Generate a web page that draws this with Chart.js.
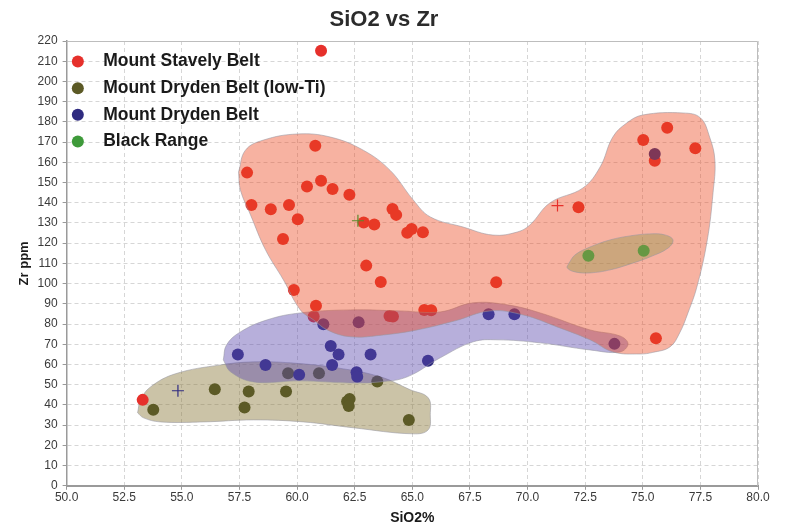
<!DOCTYPE html>
<html>
<head>
<meta charset="utf-8">
<title>SiO2 vs Zr</title>
<script src="https://cdn.jsdelivr.net/npm/chart.js@4/dist/chart.umd.min.js"></script>
<style>
  html, body { margin: 0; padding: 0; background: #ffffff; }
  canvas { display: block; }
</style>
</head>
<body>
<canvas id="chart" width="787" height="527"></canvas>
<script>
// Series names (legend order)
const seriesNames = ['Mount Stavely Belt', 'Mount Dryden Belt (low-Ti)', 'Mount Dryden Belt', 'Black Range'];

// Samples: [SiO2 %, Zr ppm]
const stavelyBelt = [
  [53.3, 42.5], [61.04, 215.2], [60.79, 168.2], [57.83, 154.9], [61.04, 150.9],
  [60.43, 148.0], [61.54, 146.8], [62.27, 144.0], [58.02, 138.9], [58.86, 136.8],
  [59.65, 138.9], [60.03, 131.8], [59.39, 122.1], [59.86, 96.9], [62.89, 130.2],
  [63.35, 129.2], [64.14, 136.9], [64.30, 134.0], [64.78, 125.2], [64.97, 127.0],
  [65.46, 125.4], [63.00, 108.9], [63.63, 100.8], [60.82, 89.0], [60.72, 83.7],
  [64.01, 84.0], [64.16, 83.7], [65.52, 87.0], [65.82, 86.8], [68.64, 100.7],
  [72.21, 137.8], [75.02, 171.0], [76.06, 177.1], [77.28, 166.9], [75.52, 160.8],
  [75.57, 73.0]
];
const drydenLowTi = [
  [53.76, 37.6], [56.43, 47.8], [57.90, 46.6], [57.72, 38.7], [59.52, 46.6],
  [59.61, 55.7], [60.95, 55.7], [62.17, 41.7], [62.28, 42.9], [62.24, 39.5],
  [63.48, 51.6], [64.85, 32.6]
];
const drydenBelt = [
  [57.43, 64.9], [58.63, 59.8], [60.09, 54.9], [61.46, 69.2], [61.80, 64.9],
  [61.52, 59.8], [62.58, 56.2], [62.61, 53.9], [63.19, 64.9], [65.68, 61.9],
  [61.14, 79.9], [62.67, 80.9], [68.31, 84.9], [69.43, 84.9], [73.77, 70.2],
  [75.52, 164.1]
];
const blackRange = [[72.64, 113.8], [75.04, 116.2]];

// Group mean markers (+)
const groupMeans = [[71.30, 138.6], [54.83, 47.0], [62.64, 131.1]];

// Field outlines drawn around each group: [SiO2 %, Zr ppm]
const stavelyField = [
  [57.46, 155.2], [57.76, 166.0], [58.54, 171.0], [60.01, 174.0], [61.44, 172.5],
  [62.87, 166.0], [64.04, 156.0], [65.04, 141.4], [65.78, 133.0], [67.20, 128.0],
  [68.50, 124.0], [69.55, 125.5], [70.10, 129.0], [70.98, 140.0], [72.40, 147.3],
  [73.15, 157.7], [73.70, 172.5], [74.30, 179.4], [75.00, 183.4], [76.75, 184.4],
  [77.50, 182.0], [77.90, 172.5], [78.13, 161.0], [78.05, 145.0], [77.80, 121.6],
  [77.35, 98.4], [76.96, 85.5], [76.60, 75.6], [76.18, 68.7], [75.44, 66.0],
  [74.88, 65.2], [73.71, 66.2], [72.71, 72.2], [71.28, 78.6], [69.81, 84.5],
  [68.38, 86.5], [66.86, 81.6], [65.21, 77.1], [63.74, 74.6], [62.31, 73.7],
  [61.31, 77.1], [60.71, 82.1], [60.14, 87.0], [59.41, 101.8], [58.63, 116.7],
  [57.98, 134.0], [57.54, 146.3], [57.46, 155.2]
];
const drydenField = [
  [56.80, 62.3], [56.94, 69.7], [57.54, 76.1], [58.71, 82.1], [60.14, 85.5],
  [62.31, 87.0], [64.48, 86.5], [66.21, 86.0], [67.64, 90.5], [69.12, 89.5],
  [70.55, 85.5], [72.71, 77.1], [74.01, 74.1], [74.36, 70.2], [74.01, 66.2],
  [72.71, 67.2], [70.55, 70.7], [68.68, 72.2], [67.64, 71.2], [66.21, 63.3],
  [64.78, 53.9], [63.61, 51.4], [62.31, 50.9], [60.14, 51.9], [58.11, 51.4],
  [57.11, 56.4], [56.80, 62.3]
];
const lowTiField = [
  [53.08, 36.1], [53.21, 42.5], [53.64, 48.9], [54.72, 55.4], [56.68, 59.8],
  [58.11, 61.3], [59.71, 60.8], [61.75, 58.3], [63.61, 53.9], [64.91, 47.5],
  [65.69, 43.5], [65.78, 35.1], [65.69, 27.7], [65.04, 25.7], [62.44, 28.7],
  [60.27, 31.6], [58.11, 32.6], [55.94, 31.6], [54.07, 31.6], [53.34, 33.6],
  [53.08, 36.1]
];
const blackRangeField = [
  [71.80, 110.2], [72.06, 114.2], [72.71, 118.1], [73.58, 121.6], [74.45, 123.6],
  [75.31, 124.6], [75.96, 124.1], [76.31, 121.6], [76.10, 117.6], [75.31, 113.2],
  [74.45, 109.7], [73.58, 106.8], [72.71, 105.3], [72.06, 105.8], [71.72, 107.8],
  [71.80, 110.2]
];

// Axis ranges and tick steps
const xRange = [50, 80], xStep = 2.5;
const yRange = [0, 220], yStep = 10;

const toXY = arr => arr.map(([x, y]) => ({ x, y }));

const pointSet = (label, data, color, order) => ({
  label: '   ' + label,
  data: toXY(data),
  backgroundColor: color,
  borderWidth: 0,
  pointRadius: 6,
  pointHoverRadius: 6,
  order
});

const fieldSet = (data, fill, order) => ({
  label: 'field',
  data: toXY(data),
  showLine: true,
  fill: 'shape',
  tension: 0.4,
  backgroundColor: fill,
  borderColor: 'rgba(150,150,160,0.55)',
  borderWidth: 1,
  pointRadius: 0,
  pointHoverRadius: 0,
  order
});

// Thin frame along the top and right of the plot area
const plotFrame = {
  id: 'plotFrame',
  beforeDatasetsDraw(chart) {
    const { ctx, chartArea: a } = chart;
    ctx.save();
    ctx.strokeStyle = '#bdbdbd';
    ctx.lineWidth = 1;
    ctx.beginPath();
    ctx.moveTo(a.left, a.top + 0.5);
    ctx.lineTo(a.right - 0.5, a.top + 0.5);
    ctx.lineTo(a.right - 0.5, a.bottom);
    ctx.stroke();
    ctx.restore();
  }
};

// Keep the in-plot legend anchored to the top of the plot area
const legendInPlot = {
  id: 'legendInPlot',
  beforeDraw(chart) {
    const lg = chart.legend;
    if (lg) {
      lg.top = chart.chartArea.top + 2.5;
      lg.bottom = chart.chartArea.bottom;
    }
  }
};

Chart.defaults.font.family = "'Liberation Sans', Arial, Helvetica, sans-serif";

new Chart(document.getElementById('chart'), {
  type: 'scatter',
  data: {
    datasets: [
      pointSet(seriesNames[0], stavelyBelt, '#e6302b', 3.4),
      pointSet(seriesNames[1], drydenLowTi, '#5c5a26', 3.3),
      pointSet(seriesNames[2], drydenBelt, '#2f2b80', 3.2),
      pointSet(seriesNames[3], blackRange, '#3e9a3a', 0.5),
      {
        label: 'means',
        data: toXY(groupMeans),
        pointStyle: 'cross',
        pointRadius: 6,
        pointHoverRadius: 6,
        borderWidth: 1.2,
        borderColor: ['#e6302b', '#2f2b80', '#5a8a2a'],
        backgroundColor: ['#e6302b', '#2f2b80', '#5a8a2a'],
        order: -1
      },
      fieldSet(lowTiField, 'rgba(140,122,60,0.45)', 5),
      fieldSet(drydenField, 'rgba(92,72,172,0.44)', 2),
      fieldSet(stavelyField, 'rgba(236,72,32,0.42)', 1),
      fieldSet(blackRangeField, 'rgba(150,150,80,0.45)', 0)
    ]
  },
  options: {
    responsive: false,
    animation: false,
    layout: { padding: { left: 10, right: 29, top: 0, bottom: 0 } },
    plugins: {
      title: {
        display: true,
        text: 'SiO2 vs Zr',
        color: '#2b2b2b',
        font: { size: 22, weight: 'bold' },
        padding: { top: 7, bottom: 7.6 }
      },
      legend: {
        position: 'chartArea',
        align: 'start',
        labels: {
          usePointStyle: true,
          boxWidth: 4,
          boxHeight: 8.5,
          padding: 9.2,
          color: '#1a1a1a',
          font: { size: 17.5, weight: 'bold' },
          filter: item => item.datasetIndex < 4,
          sort: (a, b) => a.datasetIndex - b.datasetIndex
        }
      },
      tooltip: { enabled: false }
    },
    scales: {
      x: {
        type: 'linear',
        min: xRange[0],
        max: xRange[1],
        ticks: {
          stepSize: xStep,
          color: '#3a3a3a',
          font: { size: 12 },
          padding: 1,
          maxRotation: 0,
          callback: v => v.toFixed(1)
        },
        grid: { color: '#d6d6d6', tickColor: '#9a9a9a', tickLength: 4, tickBorderDash: [] },
        border: { color: '#9a9a9a', width: 2, dash: [4, 3] },
        title: {
          display: true,
          text: 'SiO2%',
          color: '#1a1a1a',
          font: { size: 14, weight: 'bold' },
          padding: { top: 4, bottom: 0 }
        }
      },
      y: {
        type: 'linear',
        min: yRange[0],
        max: yRange[1],
        ticks: {
          stepSize: yStep,
          color: '#3a3a3a',
          font: { size: 12 },
          padding: 5
        },
        grid: { color: '#d6d6d6', tickColor: '#9a9a9a', tickLength: 4, tickBorderDash: [] },
        border: { color: '#9a9a9a', width: 1.5, dash: [4, 3] },
        title: {
          display: true,
          text: 'Zr ppm',
          color: '#1a1a1a',
          font: { size: 13, weight: 'bold' },
          padding: { top: 7, bottom: 0 }
        }
      }
    }
  },
  plugins: [plotFrame, legendInPlot]
});
</script>
</body>
</html>
